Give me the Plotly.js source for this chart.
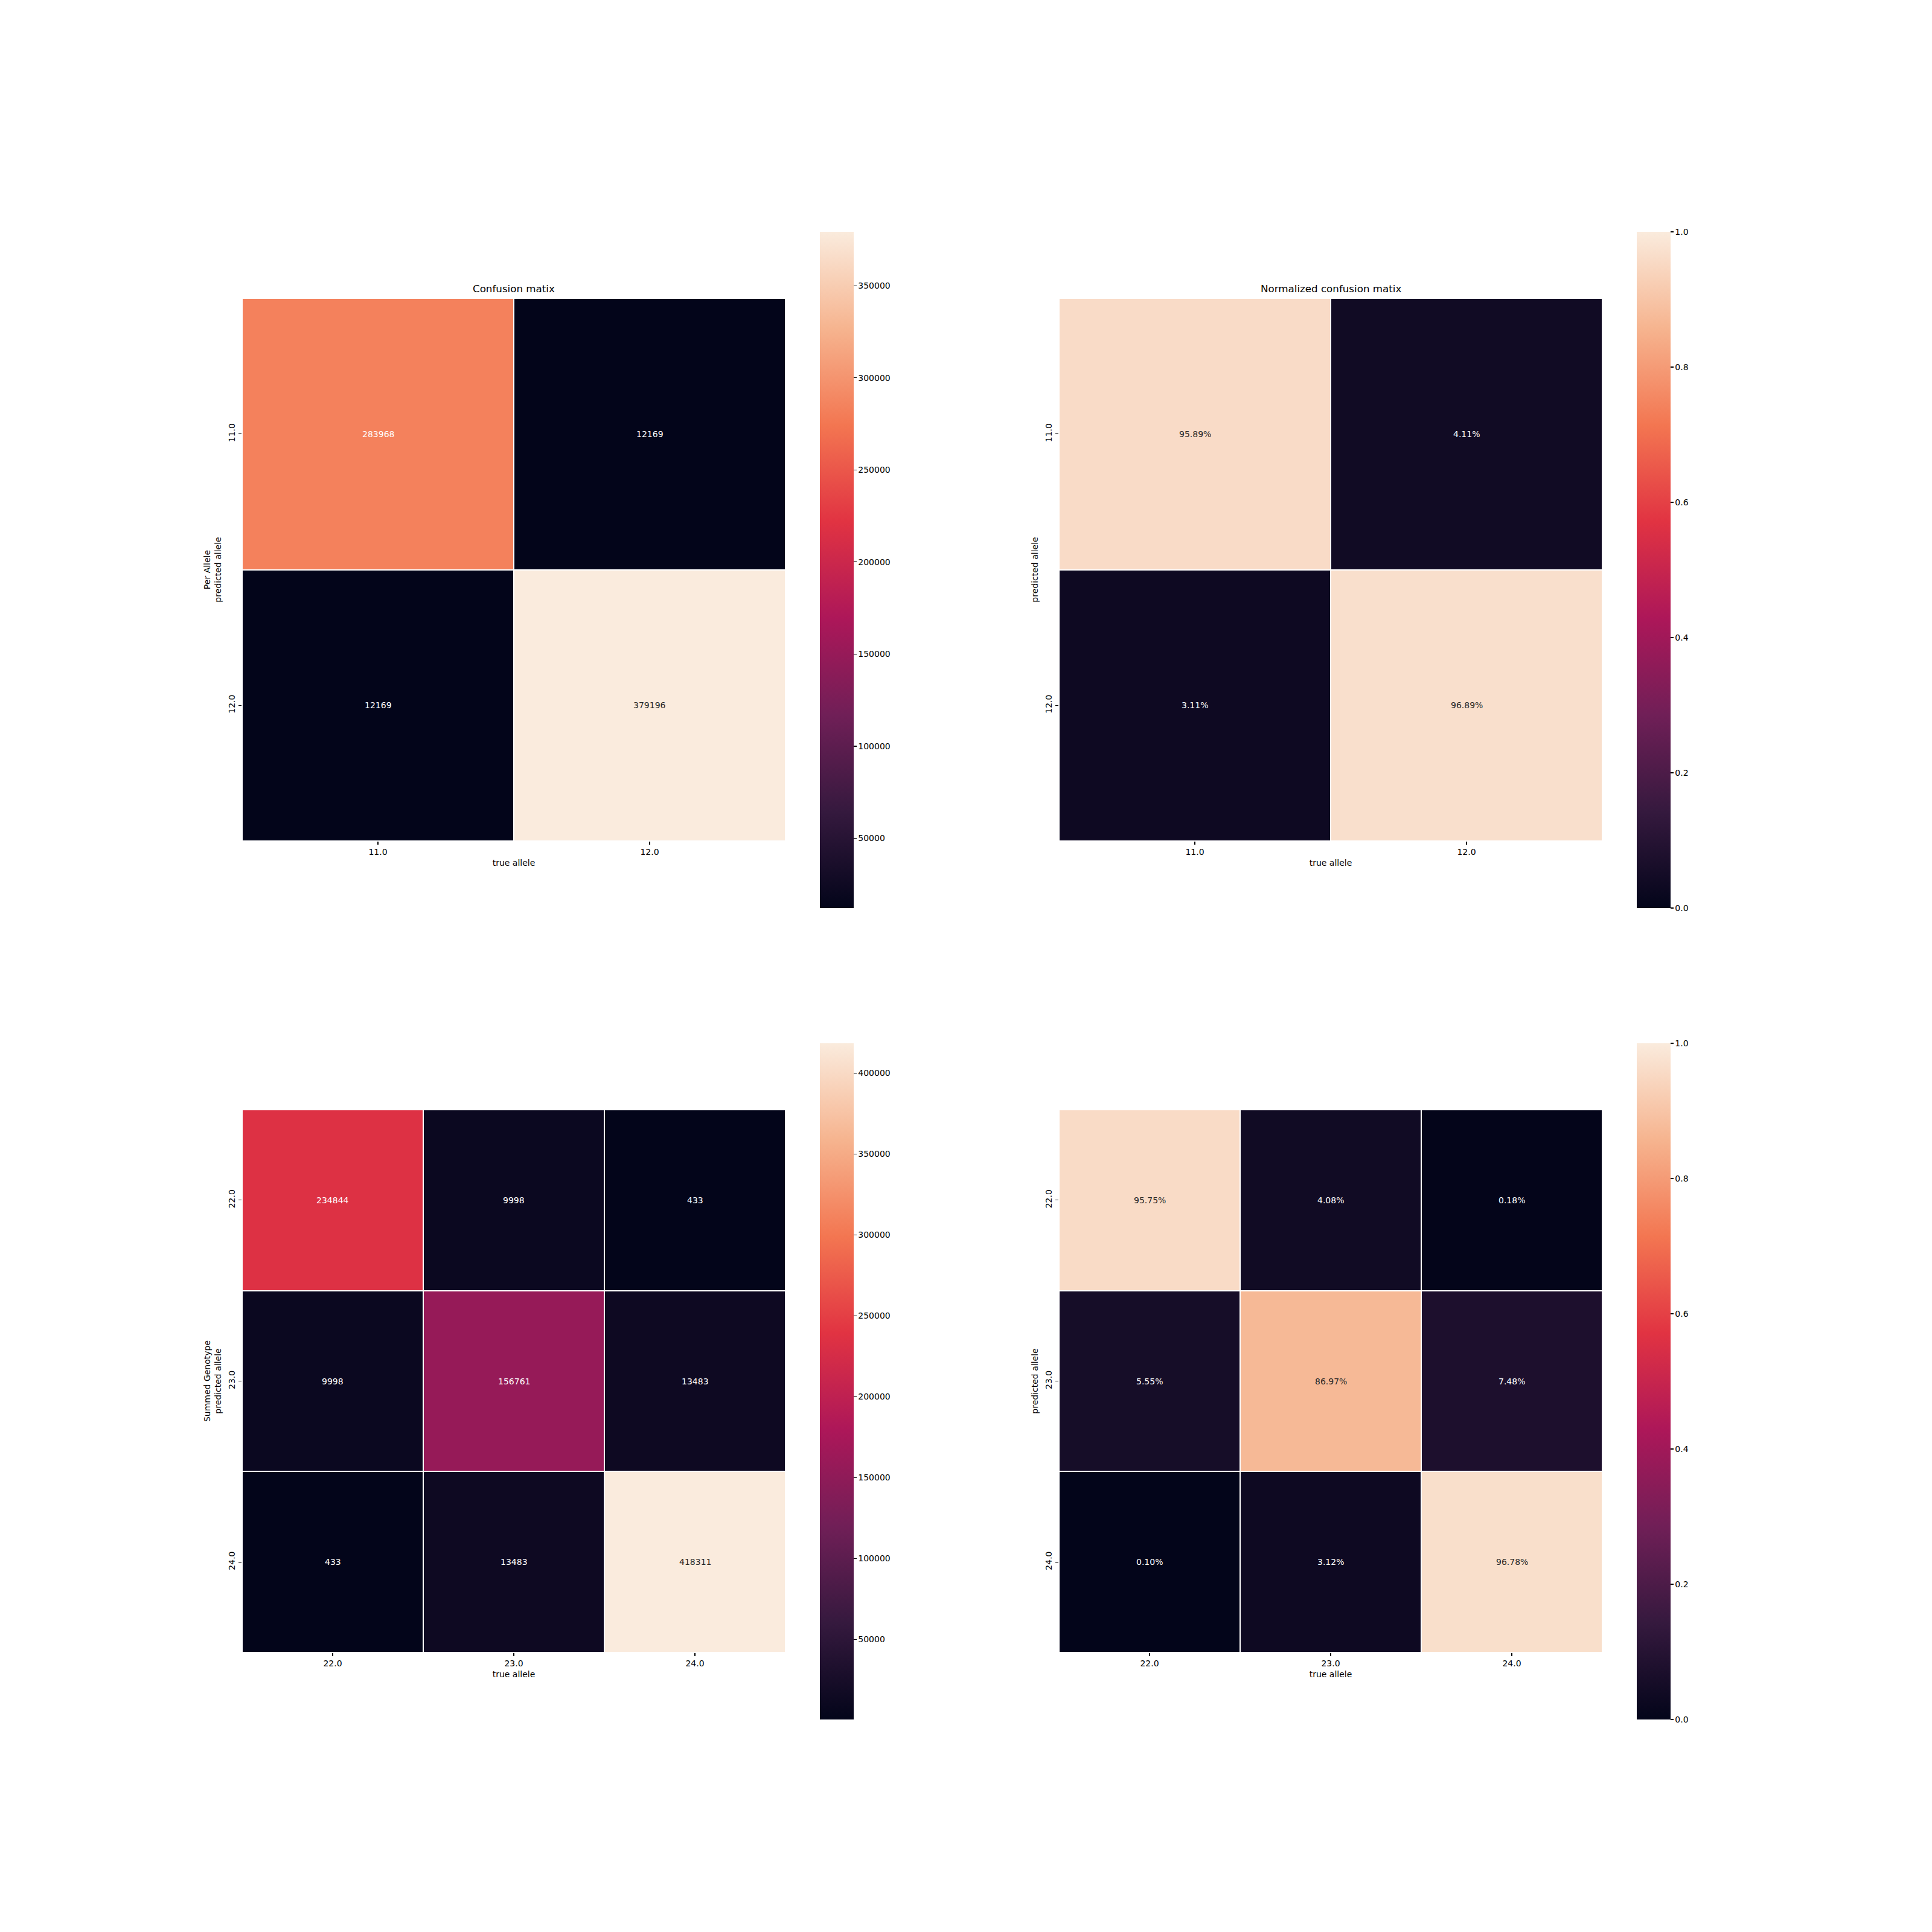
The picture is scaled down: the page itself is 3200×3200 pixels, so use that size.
<!DOCTYPE html>
<html><head><meta charset="utf-8">
<script src="https://cdn.plot.ly/plotly-3.0.1.min.js"></script>
<style>html,body{margin:0;padding:0;background:#fff}</style>
</head><body><div id="chart" style="width:3200px;height:3200px"></div>
<script>
// ---- data ----
const alleleLabels = ['11.0', '12.0'];
const genotypeLabels = ['22.0', '23.0', '24.0'];
const alleleCounts = [[283968, 12169], [12169, 379196]];
const alleleNormalized = [[0.9589, 0.0411], [0.0311, 0.9689]];
const genotypeCounts = [[234844, 9998, 433], [9998, 156761, 13483], [433, 13483, 418311]];
const genotypeNormalized = [[0.9575, 0.0408, 0.0018], [0.0555, 0.8697, 0.0748], [0.0010, 0.0312, 0.9678]];
const alleleCountTicks = [50000, 100000, 150000, 200000, 250000, 300000, 350000];
const genotypeCountTicks = [50000, 100000, 150000, 200000, 250000, 300000, 350000, 400000];
const normTicks = [0, 0.2, 0.4, 0.6, 0.8, 1.0];
const titleCounts = 'Confusion matix';
const titleNorm = 'Normalized confusion matix';
const xTitle = 'true allele';
const yTitleAllele = 'Per Allele<br>predicted allele';
const yTitleGenotype = 'Summed Genotype<br>predicted allele';
const yTitlePlain = 'predicted allele';

// ---- style ----
const FONT = 'DejaVu Sans, Liberation Sans, sans-serif';
const rocket = ['#03051a', '#35193e', '#701f57', '#ad1759', '#e13342', '#f37651', '#f6b48f', '#faebdd'];
const colorscale = rocket.map((c, i) => [i / (rocket.length - 1), c]);

function hexToRgb(h) { return [1, 3, 5].map(k => parseInt(h.substr(k, 2), 16)); }
function colorAt(t) {
  t = Math.max(0, Math.min(1, t));
  const n = rocket.length - 1;
  const i = Math.min(n - 1, Math.floor(t * n));
  const f = t * n - i;
  const a = hexToRgb(rocket[i]), b = hexToRgb(rocket[i + 1]);
  return a.map((v, k) => v + (b[k] - v) * f);
}
function lum(rgb) {
  const l = rgb.map(v => { v /= 255; return v <= 0.03928 ? v / 12.92 : Math.pow((v + 0.055) / 1.055, 2.4); });
  return 0.2126 * l[0] + 0.7152 * l[1] + 0.0722 * l[2];
}

const W = 3200;
const px = v => v / W;
const colX = [[px(401), px(1301)], [px(1754), px(2654)]];
const rowY = [[1 - px(1393), 1 - px(494)], [1 - px(2737), 1 - px(1838)]];
const cbX = [px(1358), px(2711)];
const cbY = [1 - px(944), 1 - px(2288)];
const cbLen = 1120 / W;

const tickFont = {family: FONT, size: 14, color: '#000'};
const data = [];
const layout = {
  width: 3200, height: 3200,
  margin: {l: 0, r: 0, t: 0, b: 0},
  paper_bgcolor: '#fff', plot_bgcolor: '#fff',
  font: {family: FONT, size: 14, color: '#000'},
  showlegend: false,
  annotations: []
};

const panels = [
  {z: alleleCounts, labels: alleleLabels, col: 0, row: 0, ticks: alleleCountTicks, fmt: 'd', norm: false, title: titleCounts, ytitle: yTitleAllele},
  {z: alleleNormalized, labels: alleleLabels, col: 1, row: 0, ticks: normTicks, fmt: '.1f', norm: true, title: titleNorm, ytitle: yTitlePlain},
  {z: genotypeCounts, labels: genotypeLabels, col: 0, row: 1, ticks: genotypeCountTicks, fmt: 'd', norm: false, title: null, ytitle: yTitleGenotype},
  {z: genotypeNormalized, labels: genotypeLabels, col: 1, row: 1, ticks: normTicks, fmt: '.1f', norm: true, title: null, ytitle: yTitlePlain}
];

panels.forEach((p, k) => {
  const id = k === 0 ? '' : String(k + 1);
  const xid = 'x' + id, yid = 'y' + id;
  const flat = p.z.flat();
  const zmin = p.norm ? 0 : Math.min(...flat);
  const zmax = p.norm ? 1 : Math.max(...flat);
  const idx = p.labels.map((_, i) => i);
  data.push({
    type: 'heatmap', z: p.z, x: idx, y: idx, xaxis: xid, yaxis: yid,
    zmin: zmin, zmax: zmax, colorscale: colorscale, xgap: 2, ygap: 2,
    hoverinfo: 'skip',
    colorbar: {
      x: cbX[p.col], xanchor: 'left', xpad: 0, ypad: 0,
      y: cbY[p.row], yanchor: 'middle', len: cbLen, lenmode: 'fraction',
      thickness: 56, thicknessmode: 'pixels', outlinewidth: 0,
      tickmode: 'array', tickvals: p.ticks, tickformat: p.fmt,
      ticks: 'outside', ticklen: 5, tickwidth: 1.1, tickcolor: '#000',
      tickfont: tickFont
    }
  });
  layout['xaxis' + id] = {
    domain: colX[p.col], anchor: yid, range: [-0.5, p.labels.length - 0.5],
    tickmode: 'array', tickvals: idx, ticktext: p.labels,
    ticks: 'outside', ticklen: 5, tickwidth: 1.1, tickcolor: '#000',
    showgrid: false, zeroline: false, showline: false, tickfont: tickFont,
    title: {text: xTitle, font: {family: FONT, size: 14, color: '#000'}, standoff: 6},
    fixedrange: true
  };
  layout['yaxis' + id] = {
    domain: rowY[p.row], anchor: xid, range: [p.labels.length - 0.5, -0.5],
    tickmode: 'array', tickvals: idx, ticktext: p.labels, tickangle: -90,
    ticks: 'outside', ticklen: 5, tickwidth: 1.1, tickcolor: '#000',
    showgrid: false, zeroline: false, showline: false, tickfont: tickFont,
    title: {text: p.ytitle, font: {family: FONT, size: 14, color: '#000'}, standoff: 6},
    fixedrange: true
  };
  p.z.forEach((row, i) => row.forEach((v, j) => {
    const rgb = colorAt((v - zmin) / (zmax - zmin));
    layout.annotations.push({
      xref: xid, yref: yid, x: j, y: i, showarrow: false,
      text: p.norm ? (v * 100).toFixed(2) + '%' : String(v),
      font: {family: FONT, size: 14, color: lum(rgb) > 0.408 ? '#262626' : '#ffffff'}
    });
  }));
  if (p.title) {
    layout.annotations.push({
      xref: xid + ' domain', yref: yid + ' domain', x: 0.5, y: 1, xanchor: 'center', yanchor: 'bottom',
      yshift: 4, showarrow: false, text: p.title, font: {family: FONT, size: 16.7, color: '#000'}
    });
  }
});

Plotly.newPlot('chart', data, layout, {staticPlot: true, displayModeBar: false});
</script>
</body></html>
